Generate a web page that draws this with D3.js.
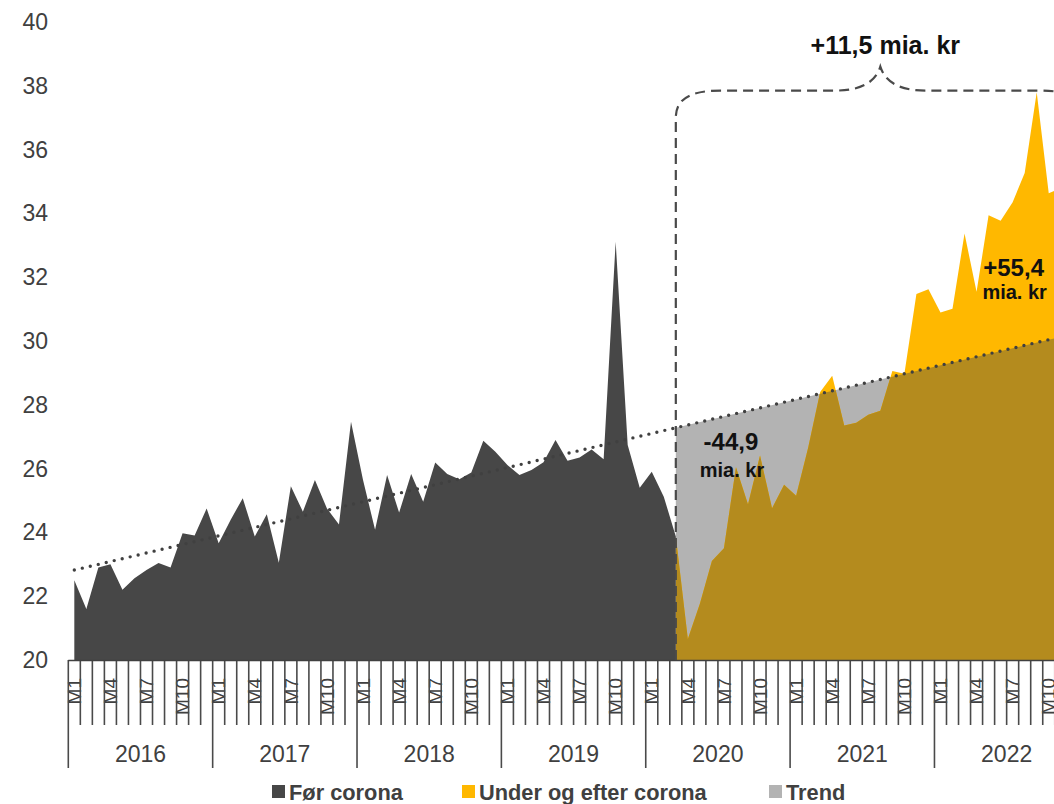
<!DOCTYPE html>
<html>
<head>
<meta charset="utf-8">
<script src="https://cdn.jsdelivr.net/npm/d3@7"></script>
<style>
  html, body { margin: 0; padding: 0; background: #fff; }
  svg { display: block; }
  text { font-family: "Liberation Sans", Arial, sans-serif; }
</style>
</head>
<body>
<svg id="chart" width="1054" height="804"></svg>
<script>
// ---------- DATA ----------
const years = ["2016", "2017", "2018", "2019", "2020", "2021", "2022"];
const monthNames = ["M1","M2","M3","M4","M5","M6","M7","M8","M9","M10","M11","M12"];
const labeledMonths = ["M1", "M4", "M7", "M10"];
const yTicks = [20, 22, 24, 26, 28, 30, 32, 34, 36, 38, 40];

// "Før corona": 2016 M1 .. 2020 M3
const forStart = "2016 M1";
const forCorona = [
  22.5, 21.6, 22.9, 23.0, 22.2, 22.56, 22.82, 23.04, 22.9, 23.97, 23.9, 24.75,
  23.66, 24.4, 25.07, 23.87, 24.57, 23.05, 25.45, 24.65, 25.64, 24.75, 24.25, 27.47,
  25.64, 24.08, 25.8, 24.62, 25.83, 24.96, 26.19, 25.83, 25.67, 25.88, 26.87, 26.53,
  26.11, 25.8, 25.96, 26.2, 26.9, 26.25, 26.35, 26.6, 26.29, 33.11, 26.74, 25.4,
  25.9, 25.12, 23.87
];

// "Under og efter corona": 2020 M3 .. 2022 M11
const underStart = "2020 M3";
const underCorona = [
  23.87, 20.66, 21.76, 23.1, 23.5, 26.04, 24.88, 26.41, 24.76, 25.49,
  25.15, 26.65, 28.4, 28.91, 27.35, 27.44, 27.69, 27.81, 29.06, 28.97, 31.47, 31.62,
  30.89, 31.01, 33.37, 31.54, 33.94, 33.77, 34.35, 35.27, 37.8, 34.63, 34.8
];

// Trend (straight line) read at three months
const trendMonths = ["2016 M1", "2020 M3", "2022 M11"];
const trendValues = [22.82, 27.28, 30.13];

// Annotations
const braceLabel = "+11,5 mia. kr";
const lossLabel = ["-44,9", "mia. kr"];
const gainLabel = ["+55,4", "mia. kr"];
const legendItems = ["Før corona", "Under og efter corona", "Trend"];

// ---------- SETUP ----------
const colors = {
  dark: "#474747",
  yellow: "#FFB800",
  gold: "#B48B1E",
  gray: "#B3B3B3",
  axis: "#404040",
  text: "#404040"
};

const months = [];
years.forEach(y => monthNames.forEach(m => months.push(y + " " + m)));

const svg = d3.select("#chart");
const baseline = 660;
const x = d3.scaleBand().domain(months).range([68.3, 68.3 + 12.03 * months.length]).paddingInner(0).paddingOuter(0);
const y = d3.scaleLinear().domain([20, 40]).range([baseline, 22]);
const xc = k => x(k) + x.bandwidth() / 2;

function seriesFrom(startKey, values) {
  const i0 = months.indexOf(startKey);
  return values.map((v, i) => ({ k: months[i0 + i], v }));
}
const forData = seriesFrom(forStart, forCorona);
const underData = seriesFrom(underStart, underCorona);
const trendData = trendMonths.map((k, i) => ({ k, v: trendValues[i] }));
const trendArea = trendData.filter(d => months.indexOf(d.k) >= months.indexOf(underStart));

const area = d3.area().x(d => xc(d.k)).y0(baseline).y1(d => y(d.v));
const line = d3.line().x(d => xc(d.k)).y(d => y(d.v));

const defs = svg.append("defs");
defs.append("clipPath").attr("id", "trendClip")
  .append("path").attr("d", area(trendArea));

// ---------- AREAS ----------
svg.append("path").attr("d", area(trendArea)).attr("fill", colors.gray);
svg.append("path").attr("d", area(underData)).attr("fill", colors.yellow);
svg.append("path").attr("d", area(underData)).attr("fill", colors.gold).attr("clip-path", "url(#trendClip)");
svg.append("path").attr("d", area(forData)).attr("fill", colors.dark);

// ---------- Y AXIS LABELS ----------
svg.append("g").selectAll("text").data(yTicks).join("text")
  .attr("x", 48).attr("y", d => y(d)).attr("dy", "0.35em")
  .attr("text-anchor", "end")
  .attr("font-size", 23).attr("fill", colors.text)
  .text(d => d);

// ---------- X AXIS ----------
const xAxis = svg.append("g");
xAxis.selectAll("text.m").data(months.filter(k => labeledMonths.includes(k.split(" ")[1]))).join("text")
  .attr("class", "m")
  .attr("transform", k => `translate(${xc(k)},678) rotate(-90)`)
  .attr("dy", "0.35em")
  .attr("text-anchor", "end")
  .attr("font-size", 19).attr("fill", colors.text)
  .text(k => k.split(" ")[1]);

const boundaries = months.map(k => x(k)).concat([x(months[months.length - 1]) + x.bandwidth()]);
xAxis.selectAll("line.t").data(boundaries).join("line")
  .attr("x1", d => d).attr("x2", d => d)
  .attr("y1", baseline).attr("y2", (d, i) => (i % 12 === 0) ? 768 : 725)
  .attr("stroke", "#4a4a4a").attr("stroke-width", 1.6);

xAxis.append("line")
  .attr("x1", x.range()[0]).attr("x2", x.range()[1])
  .attr("y1", baseline + 0.5).attr("y2", baseline + 0.5)
  .attr("stroke", colors.axis).attr("stroke-width", 1.5);

xAxis.selectAll("text.y").data(years).join("text")
  .attr("class", "y")
  .attr("x", yr => x(yr + " M1") + x.bandwidth() * 6)
  .attr("y", 762)
  .attr("text-anchor", "middle")
  .attr("font-size", 23).attr("fill", colors.text)
  .text(yr => yr);

// ---------- TREND LINE ----------
svg.append("path").attr("d", line(trendData))
  .attr("fill", "none").attr("stroke", "#404040")
  .attr("stroke-width", 3.4).attr("stroke-linecap", "round")
  .attr("stroke-dasharray", "0,8.2");

// ---------- BRACE ----------
const L = xc(underStart);
const T = xc("2021 M8");
const R = 2 * T - L;
const yh = y(37.85), yt = y(38.6), ycn = y(37.0);
const braceD = `M${L},${baseline} L${L},${ycn} C${L},${yh + 8} ${L + 15},${yh} ${L + 45},${yh} ` +
  `L${T - 45},${yh} C${T - 20},${yh} ${T - 5},${yh - 8} ${T},${yt} ` +
  `C${T + 5},${yh - 8} ${T + 20},${yh} ${T + 45},${yh} L${R - 45},${yh} ` +
  `C${R - 15},${yh} ${R},${yh + 8} ${R},${ycn} L${R},${baseline}`;
svg.append("path").attr("d", braceD)
  .attr("fill", "none").attr("stroke", "#4a4a4a")
  .attr("stroke-width", 2.2).attr("stroke-dasharray", "10,6");

// ---------- ANNOTATIONS ----------
svg.append("text").attr("x", T + 5).attr("y", 54)
  .attr("text-anchor", "middle").attr("font-size", 25).attr("font-weight", "bold")
  .attr("fill", "#111").text(braceLabel);

const ann = svg.append("g").attr("font-weight", "bold").attr("fill", "#111").attr("text-anchor", "middle");
ann.append("text").attr("x", xc("2020 M8") - 5).attr("y", 450).attr("font-size", 24).text(lossLabel[0]);
ann.append("text").attr("x", xc("2020 M8") - 4).attr("y", 477).attr("font-size", 20).text(lossLabel[1]);
ann.append("text").attr("x", xc("2022 M6") + 13).attr("y", 276).attr("font-size", 24).text(gainLabel[0]);
ann.append("text").attr("x", xc("2022 M6") + 14).attr("y", 299).attr("font-size", 20).text(gainLabel[1]);

// ---------- LEGEND ----------
const legendX = [272, 462, 769];
const legendColors = [colors.dark, colors.yellow, colors.gray];
const lg = svg.append("g");
legendItems.forEach((name, i) => {
  lg.append("rect").attr("x", legendX[i]).attr("y", 785).attr("width", 13).attr("height", 13)
    .attr("fill", legendColors[i]);
  lg.append("text").attr("x", legendX[i] + 17).attr("y", 800)
    .attr("font-size", 21.8).attr("font-weight", "bold").attr("fill", colors.text)
    .text(name);
});
</script>
</body>
</html>
